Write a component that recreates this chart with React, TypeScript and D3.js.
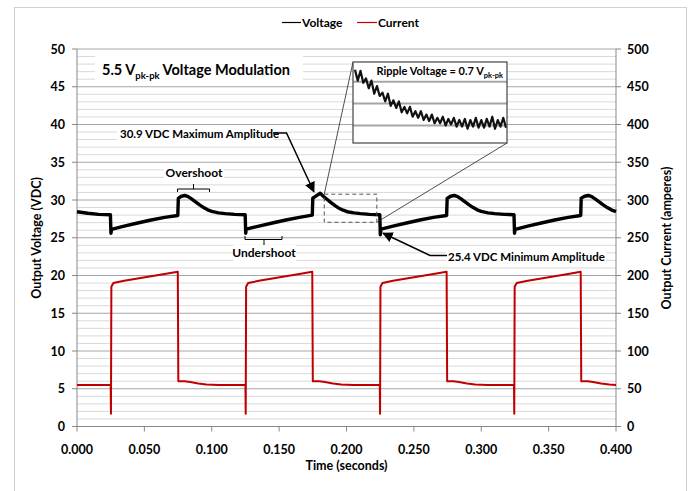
import React from "react";
import * as d3 from "d3";

// Output voltage trace (seconds, VDC)
const voltageTime = [
  0.0, 0.008, 0.016, 0.0248, 0.0252, 0.0256, 0.035, 0.045, 0.055, 0.065, 0.0748,
  0.0752, 0.0775, 0.08, 0.0825, 0.085, 0.088, 0.091, 0.094, 0.097, 0.1, 0.105, 0.11, 0.117, 0.1248,
  0.1252, 0.1256, 0.135, 0.145, 0.155, 0.165, 0.1746,
  0.175, 0.1775, 0.1805, 0.183, 0.1855, 0.1885, 0.1915, 0.1945, 0.1975, 0.2005, 0.2055, 0.2105, 0.217, 0.2247,
  0.2251, 0.2256, 0.2345, 0.2445, 0.2545, 0.2645, 0.2743,
  0.2747, 0.2772, 0.28, 0.2825, 0.285, 0.288, 0.291, 0.294, 0.297, 0.3, 0.305, 0.31, 0.317, 0.3243,
  0.3247, 0.3252, 0.3345, 0.3445, 0.3545, 0.3645, 0.3738,
  0.3742, 0.3767, 0.3795, 0.382, 0.3845, 0.3875, 0.3905, 0.3935, 0.3965, 0.4,
];
const voltageValue = [
  28.45, 28.25, 28.1, 28.05, 25.6, 26.1, 26.55, 26.95, 27.35, 27.7, 27.95,
  30.2, 30.5, 30.6, 30.45, 30.15, 29.75, 29.35, 29.0, 28.7, 28.5, 28.3, 28.2, 28.1, 28.05,
  25.6, 26.15, 26.55, 26.95, 27.35, 27.7, 28.0,
  30.25, 30.55, 30.9, 30.45, 30.1, 29.65, 29.25, 28.9, 28.65, 28.45, 28.3, 28.2, 28.1, 28.05,
  25.4, 26.15, 26.55, 26.95, 27.35, 27.7, 27.95,
  30.2, 30.5, 30.6, 30.45, 30.15, 29.75, 29.35, 29.0, 28.7, 28.5, 28.3, 28.2, 28.1, 28.05,
  25.6, 26.1, 26.55, 26.95, 27.35, 27.7, 27.95,
  30.25, 30.5, 30.6, 30.45, 30.15, 29.75, 29.35, 29.0, 28.7, 28.45,
];

// Output current trace (seconds, amperes)
const currentTime = [
  0.0, 0.025, 0.0252, 0.0255, 0.027, 0.035, 0.045, 0.055, 0.065, 0.0748,
  0.0752, 0.08, 0.084, 0.09, 0.096, 0.105, 0.125,
  0.1252, 0.1255, 0.127, 0.135, 0.145, 0.155, 0.165, 0.1746,
  0.175, 0.18, 0.184, 0.19, 0.196, 0.205, 0.2247,
  0.2249, 0.2252, 0.2267, 0.2345, 0.2445, 0.2545, 0.2645, 0.2743,
  0.2747, 0.2795, 0.2835, 0.2895, 0.2955, 0.3045, 0.3243,
  0.3245, 0.3248, 0.3263, 0.3345, 0.3445, 0.3545, 0.3645, 0.3738,
  0.3742, 0.379, 0.383, 0.389, 0.395, 0.4,
];
const currentValue = [
  55, 55, 17, 185, 190, 193, 196, 199, 202, 205,
  60, 60, 59, 57, 55.5, 55, 55,
  17, 185, 190, 193, 196, 199, 202, 205,
  60, 60, 59, 57, 55.5, 55, 55,
  17, 185, 190, 193, 196, 199, 202, 205,
  60, 60, 59, 57, 55.5, 55, 55,
  17, 185, 190, 193, 196, 199, 202, 205,
  60, 60, 59, 57, 55.5, 55,
];

// Magnified ripple samples shown in the detail window (VDC)
const rippleValue = [
  30.55, 30.05, 30.5, 29.95, 30.15, 29.7, 30.05, 29.45, 29.8, 29.35, 29.5, 29.1, 29.45, 28.9,
  29.15, 28.8, 29.1, 28.6, 28.85, 28.55, 28.85, 28.4, 28.65, 28.35, 28.65, 28.25, 28.5, 28.2,
  28.5, 28.1, 28.35, 28.1, 28.4, 28.0, 28.3, 28.05, 28.35, 27.95, 28.25, 27.95, 28.3, 27.85,
  28.25, 27.95, 28.35, 27.9, 28.25, 27.9, 28.3, 27.95, 28.4, 27.85, 28.25, 27.95, 28.35, 27.9,
];
const rippleGrid = [28, 29, 30];

const timeTicks = [0, 0.05, 0.1, 0.15, 0.2, 0.25, 0.3, 0.35, 0.4];
const voltageTicks = [0, 5, 10, 15, 20, 25, 30, 35, 40, 45, 50];
const currentTicks = [0, 50, 100, 150, 200, 250, 300, 350, 400, 450, 500];
const minorGrid = d3.range(0, 51, 1);

// Detail window region (seconds, VDC)
const zoomTime = [0.1835, 0.2225];
const zoomVolt = [27.05, 30.77];

const FONT = "Lato, 'DejaVu Sans', sans-serif";

export default function App() {
  const left = 77, right = 616, top = 49, bottom = 426.5;
  const x = d3.scaleLinear().domain([0, 0.4]).range([left, right]);
  const yV = d3.scaleLinear().domain([0, 50]).range([bottom, top]);
  const yA = d3.scaleLinear().domain([0, 500]).range([bottom, top]);

  const vLine = d3
    .line<number>()
    .x((_, i) => x(voltageTime[i]))
    .y((d) => yV(d));
  const aLine = d3
    .line<number>()
    .x((_, i) => x(currentTime[i]))
    .y((d) => yA(d));

  // detail window geometry
  const inL = 353, inR = 507, inT = 62, inB = 143;
  const xi = d3.scaleLinear().domain([0, rippleValue.length - 1]).range([inL + 2, inR - 1]);
  const yi = d3.scaleLinear().domain([27.2, 30.9]).range([inB, inT]);
  const rLine = d3
    .line<number>()
    .x((_, i) => xi(i))
    .y((d) => yi(d));

  const boxL = x(zoomTime[0]), boxR = x(zoomTime[1]);
  const boxT = yV(zoomVolt[1]), boxB = yV(zoomVolt[0]);

  const maxTip = [x(0.1758), yV(31.1)];
  const minTip = [x(0.2272), yV(25.6)];

  return (
    <svg
      width={688}
      height={491}
      style={{ position: "absolute", left: 0, top: 0, background: "#fff" }}
      fontFamily={FONT}
    >
      <defs>
        <marker id="arrow" viewBox="0 0 10 10" refX="9" refY="5" markerWidth="7" markerHeight="7" orient="auto">
          <path d="M0,0 L10,5 L0,10 z" fill="#000" />
        </marker>
        <clipPath id="insetClip">
          <rect x={inL} y={inT} width={inR - inL} height={inB - inT} />
        </clipPath>
      </defs>

      {/* chart frame */}
      <rect x={14.5} y={7.5} width={672} height={500} fill="#fff" stroke="#d0d0d0" strokeWidth={1} />

      {/* legend */}
      <g fontWeight="bold" fontSize={12}>
        <line x1={282} x2={301} y1={22.5} y2={22.5} stroke="#000" strokeWidth={1.2} />
        <text x={302} y={27}>Voltage</text>
        <line x1={357} x2={377} y1={22.5} y2={22.5} stroke="#c00000" strokeWidth={1.2} />
        <text x={378} y={27}>Current</text>
      </g>

      {/* gridlines */}
      {minorGrid.map((v) => (
        <line
          key={v}
          x1={left}
          x2={right}
          y1={yV(v)}
          y2={yV(v)}
          stroke={v % 5 === 0 ? "#a6a6a6" : "#d9d9d9"}
          strokeWidth={1}
        />
      ))}

      {/* axes */}
      <line x1={left} x2={left} y1={top} y2={bottom} stroke="#888" />
      <line x1={right} x2={right} y1={top} y2={bottom} stroke="#888" />
      <line x1={left} x2={right} y1={bottom} y2={bottom} stroke="#888" />

      <g fontWeight="bold" fontSize={12.5} fill="#000">
        {voltageTicks.map((v) => (
          <g key={v}>
            <line x1={left - 5} x2={left} y1={yV(v)} y2={yV(v)} stroke="#888" />
            <text x={65} y={yV(v) + 4.5} textAnchor="end">{v}</text>
          </g>
        ))}
        {currentTicks.map((v) => (
          <g key={v}>
            <line x1={right} x2={right + 5} y1={yA(v)} y2={yA(v)} stroke="#888" />
            <text x={627} y={yA(v) + 4.5}>{v}</text>
          </g>
        ))}
        {timeTicks.map((t) => (
          <g key={t}>
            <line x1={x(t)} x2={x(t)} y1={bottom} y2={bottom + 5} stroke="#888" />
            <text x={x(t)} y={454} textAnchor="middle">{d3.format(".3f")(t)}</text>
          </g>
        ))}
        <text x={(left + right) / 2} y={470} textAnchor="middle">Time (seconds)</text>
        <text transform="translate(41,238) rotate(-90)" textAnchor="middle">Output Voltage (VDC)</text>
        <text transform="translate(671,238) rotate(-90)" textAnchor="middle">Output Current (amperes)</text>
      </g>

      {/* traces */}
      <path d={aLine(currentValue) ?? ""} fill="none" stroke="#c00000" strokeWidth={2} strokeLinejoin="round" />
      <path d={vLine(voltageValue) ?? ""} fill="none" stroke="#000" strokeWidth={3.4} strokeLinejoin="round" />

      {/* title box */}
      <rect x={95} y={56} width={208} height={25} fill="#fff" />
      <text x={102} y={75} fontWeight="bold" fontSize={14.5}>
        5.5 V<tspan fontSize={9.5} dy={4}>pk-pk</tspan>
        <tspan dy={-4}> Voltage  Modulation</tspan>
      </text>

      {/* overshoot / undershoot annotations */}
      <g fontWeight="bold" fontSize={12}>
        <rect x={164} y={164} width={60} height={16} fill="#fff" />
        <text x={194} y={177} textAnchor="middle">Overshoot</text>
        <path d="M177.5,192 L177.5,189 L209.5,189 L209.5,192 M193.5,189 L193.5,184" fill="none" stroke="#000" strokeWidth={1} />

        <rect x={233} y={245} width={63} height={16} fill="#fff" />
        <text x={264} y={257} textAnchor="middle">Undershoot</text>
        <path d="M245,236 L245,239.5 L282,239.5 L282,236 M264,239.5 L264,245" fill="none" stroke="#000" strokeWidth={1} />
      </g>

      {/* max / min callouts */}
      <g fontWeight="bold" fontSize={11.5}>
        <rect x={117} y={126} width={157} height={15} fill="#fff" />
        <text x={120} y={137.5}>30.9 VDC Maximum Amplitude</text>
        <polyline
          points={`273,133 286.5,133 ${maxTip[0]},${maxTip[1]}`}
          fill="none"
          stroke="#000"
          strokeWidth={1.5}
          markerEnd="url(#arrow)"
        />

        <rect x={446} y={249} width={160} height={15} fill="#fff" />
        <text x={448} y={261}>25.4 VDC Minimum Amplitude</text>
        <polyline
          points={`447,255.5 430,255.5 ${minTip[0]},${minTip[1]}`}
          fill="none"
          stroke="#000"
          strokeWidth={1.5}
          markerEnd="url(#arrow)"
        />
      </g>

      {/* detail window */}
      <rect x={boxL} y={boxT} width={boxR - boxL} height={boxB - boxT} fill="none" stroke="#555" strokeDasharray="4,3" strokeWidth={1} />
      <line x1={boxL} y1={boxT} x2={inL} y2={inT} stroke="#222" strokeWidth={0.8} />
      <line x1={boxR} y1={boxB} x2={inR} y2={inB} stroke="#222" strokeWidth={0.8} />

      <rect x={inL} y={inT} width={inR - inL} height={inB - inT} fill="#fff" />
      <g clipPath="url(#insetClip)">
        {rippleGrid.map((v) => (
          <line key={v} x1={inL} x2={inR} y1={yi(v)} y2={yi(v)} stroke="#a6a6a6" strokeWidth={2} />
        ))}
        <path d={rLine(rippleValue) ?? ""} fill="none" stroke="#111" strokeWidth={2.2} strokeLinejoin="round" />
      </g>
      <rect x={inL} y={inT} width={inR - inL} height={inB - inT} fill="none" stroke="#444" strokeWidth={1.2} />
      <text x={503} y={75} textAnchor="end" fontWeight="bold" fontSize={11}>
        Ripple Voltage = 0.7 V<tspan fontSize={7.5} dy={3}>pk-pk</tspan>
      </text>
    </svg>
  );
}
